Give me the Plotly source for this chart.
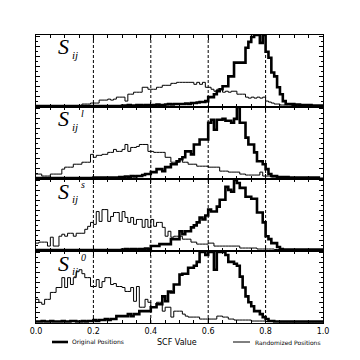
import plotly.graph_objects as go
from plotly.subplots import make_subplots

# bin edges: 100 bins of width 0.01 over SCF value 0..1
bin_width = 0.01
n_bins = 100

orig1 = ([0]*30 +
         [0.5,0.5,1,0.5,0.5,1,1,0.5,1,1] +
         [1,1,1.5,1,1,1.5,2,1.5,2,2] +
         [2,2,2.5,2,3,3,3.5,4,4,5] +
         [9,9,12,15,17,20,20,30,30,44] +
         [44,44,44,59,65,70,72,72,64,72] +
         [55,49,34,30,19,12,5,2,2,2] +
         [1.5,1.5,1,1,1,1,0.5,0.5,0.5,0.5])
rand1 = ([0.5]*16 +
         [2,2,2,3,3,3,6,6,6,7,6,7,9,9] +
         [9,5,12,12,14,14,14,19,19,17] +
         [17,17,19,19,21,21,21,23,23,24] +
         [24,24,24,24,24,22,24,22,24,19] +
         [19,17,15,17,17,14,15,14,15,15] +
         [12,12,12,9,8,9,8,9,8,9] +
         [5,4,3,2,2,1,1,1,1,0.5] +
         [0.5]*5 + [0]*5)

orig2 = ([0]*20 + [0.5]*9 +
         [1,1,1.5,1,2,1.5,2,2,3,4] +
         [4,6,6,9,9,7,11,11,14,14] +
         [17,19,21,27,27,24,34,34,39,39] +
         [39,56,59,49,59,59,60,58,58,56] +
         [60,72,56,56,41,34,34,26,17,17] +
         [14,9,4,2,2,1,1,1,1,0.5] +
         [0.5]*10)
rand2 = ([4,4,2,2,2,4,4,4,4,9] +
         [11,11,11,14,14,14,16,16,16,24] +
         [21,23,23,24,24,26,26,29,27,27] +
         [29,34,27,31,31,32,34,34,34,27] +
         [27,26,26,26,26,21,21,16,16,16] +
         [19,16,16,14,14,14,12,12,12,12] +
         [11,11,11,11,7,7,7,6,6,6] +
         [6,4,4,3,3,3,3,3,6,2] +
         [2,2,1,1,1,0.5,0.5,0.5,0.5,0.5] +
         [0.5]*3 + [0]*7)

orig3 = ([0]*30 +
         [0.5,1,0.5,1,1,0.5,1,1,1.5,1] +
         [4,4,4,6,6,6,6,11,11,11] +
         [19,16,19,19,23,25,28,33,31,35] +
         [41,39,39,44,51,51,64,61,59,71] +
         [68,63,63,54,54,52,52,38,38,28] +
         [14,11,7,7,3,1,0.5,0.5,0.5,0.5] +
         [0.5]*10)
rand3 = ([7,8,8,8,4,13,4,4,14,16] +
         [14,17,17,14,17,17,17,21,24,28] +
         [26,39,29,41,41,29,34,38,38,29] +
         [39,33,28,33,26,31,31,23,31,23] +
         [31,24,28,28,23,14,19,13,14,14] +
         [14,11,11,11,8,8,6,6,6,6] +
         [7,7,4,4,4,4,4,4,4,4] +
         [4,2,2,2,2,2,2,1,1,1] +
         [1,1,1,0.5,0.5,0.5,0.5,0.5,0,0] +
         [0]*10)

orig4 = ([0.5,0.5,1,0.5,0.5,1,0.5,0.5,0.5,1,0.5,0.5,1,1,0.5,0.5,1,0.5] +
         [1,1,2,1,2,2,3,2,3,3] +
         [6,6,6,6,8,6,8,8,11,11,11,11] +
         [15,15,18,18,26,21,31,30,38,38] +
         [48,49,49,55,55,57,61,71,71,68] +
         [71,71,53,71,71,71,68,61,61,59] +
         [57,46,35,26,20,16,11,11,8,5] +
         [3,1,1,0.5,0.5,0.5,0.5,0.5,0.5,0.5] +
         [0.5]*10)
rand4 = ([23,20,18,23,23,30,30,35,35,45] +
         [35,45,38,45,51,53,49,45,45,36] +
         [36,43,35,41,45,45,38,39,36,36] +
         [35,31,31,35,21,36,15,15,23,20] +
         [15,15,20,20,11,15,15,5,11,11] +
         [11,8,6,5,5,5,5,3,3,3] +
         [3,3,3,6,6,5,5,3,3,2] +
         [2,2,2,2,2,1,1,1,1,1] +
         [0.5]*5 + [0]*5 +
         [0]*10)

original = [orig1, orig2, orig3, orig4]
randomized = [rand1, rand2, rand3, rand4]
superscripts = ["", "l", "s", "0"]
x_ticks = [0.0, 0.2, 0.4, 0.6, 0.8, 1.0]
x_tick_text = ["0.0", "0.2", "0.4", "0.6", "0.8", "1.0"]
dashed_x = [0.2, 0.4, 0.6, 0.8]

edges = [i * bin_width for i in range(n_bins + 1)]

fig = make_subplots(rows=4, cols=1, shared_xaxes=True, vertical_spacing=0)

for k in range(4):
    for vals, w in ((randomized[k], 1), (original[k], 2.6)):
        fig.add_trace(go.Scatter(
            x=edges, y=list(vals) + [vals[-1]], mode="lines",
            line=dict(color="black", width=w, shape="hv"),
            showlegend=False, hoverinfo="skip"), row=k + 1, col=1)

# the page body has an 8px margin, so the figure is offset by 8px
OFF = 8
W, H = 352, 352
L, R, T, B = 28, 37, 27, 37
pw, ph = W - L - R, H - T - B
# window-pixel helpers (plot area in window: x 36..323, y 35..323)
WL, WB = 36, 323

def px(xp):
    return (xp - WL) / pw

def py(yp):
    return (WB - yp) / ph

for k in range(4):
    ax = "" if k == 0 else str(k + 1)
    fig.layout["xaxis" + ax].update(
        range=[0, 1], showline=True, mirror="ticks", linecolor="black", linewidth=1,
        ticks="inside", ticklen=5, tickcolor="black", tickvals=x_ticks,
        minor=dict(dtick=0.05, ticks="inside", ticklen=3, tickcolor="black"),
        showgrid=False, zeroline=False,
        showticklabels=(k == 3), ticktext=x_tick_text,
        tickfont=dict(family="DejaVu Sans", size=8, color="black"))
    fig.layout["yaxis" + ax].update(
        range=[-1, 72], showline=True, mirror="ticks", linecolor="black", linewidth=1,
        ticks="inside", ticklen=4, tickcolor="black", dtick=10, tick0=0,
        minor=dict(dtick=5, ticks="inside", ticklen=2, tickcolor="black"),
        showgrid=False, zeroline=False, showticklabels=False)

shapes = []
for v in dashed_x:
    shapes.append(dict(type="line", xref="x", yref="paper", x0=v, x1=v, y0=0, y1=1,
                       line=dict(color="black", width=1, dash="3px,2px")))
# legend samples
shapes.append(dict(type="line", xref="paper", yref="paper", x0=px(52), x1=px(68),
                   y0=py(342), y1=py(342), line=dict(color="black", width=2.6)))
shapes.append(dict(type="line", xref="paper", yref="paper", x0=px(233), x1=px(250),
                   y0=py(342), y1=py(342), line=dict(color="black", width=1)))

ann = []
serif = "Liberation Serif"
for k in range(4):
    top = 35 + 72 * k
    ann.append(dict(xref="paper", yref="paper", x=px(56), y=py(top + 12), text="S",
                    showarrow=False, xanchor="left", yanchor="middle",
                    font=dict(family=serif, size=22, color="black", style="italic")))
    ann.append(dict(xref="paper", yref="paper", x=px(70), y=py(top + 20), text="ij",
                    showarrow=False, xanchor="left", yanchor="middle",
                    font=dict(family=serif, size=11, color="black", style="italic")))
    if superscripts[k]:
        ann.append(dict(xref="paper", yref="paper", x=px(79), y=py(top + 6),
                        text=superscripts[k], showarrow=False, xanchor="left",
                        yanchor="middle",
                        font=dict(family=serif, size=10, color="black", style="italic")))

ann.append(dict(xref="paper", yref="paper", x=px(70), y=py(342), text="Original Positions",
                showarrow=False, xanchor="left", yanchor="middle",
                font=dict(family="DejaVu Sans", size=6, color="black")))
ann.append(dict(xref="paper", yref="paper", x=px(253), y=py(342), text="Randomized Positions",
                showarrow=False, xanchor="left", yanchor="middle",
                font=dict(family="DejaVu Sans", size=6, color="black")))
ann.append(dict(xref="paper", yref="paper", x=px(177), y=py(342), text="SCF Value",
                showarrow=False, xanchor="center", yanchor="middle",
                font=dict(family="DejaVu Sans", size=8, color="black")))

fig.update_layout(width=W, height=H, margin=dict(l=L, r=R, t=T, b=B, pad=0),
                  paper_bgcolor="white", plot_bgcolor="white",
                  shapes=shapes, annotations=ann, showlegend=False)

fig.write_html("out.html")
